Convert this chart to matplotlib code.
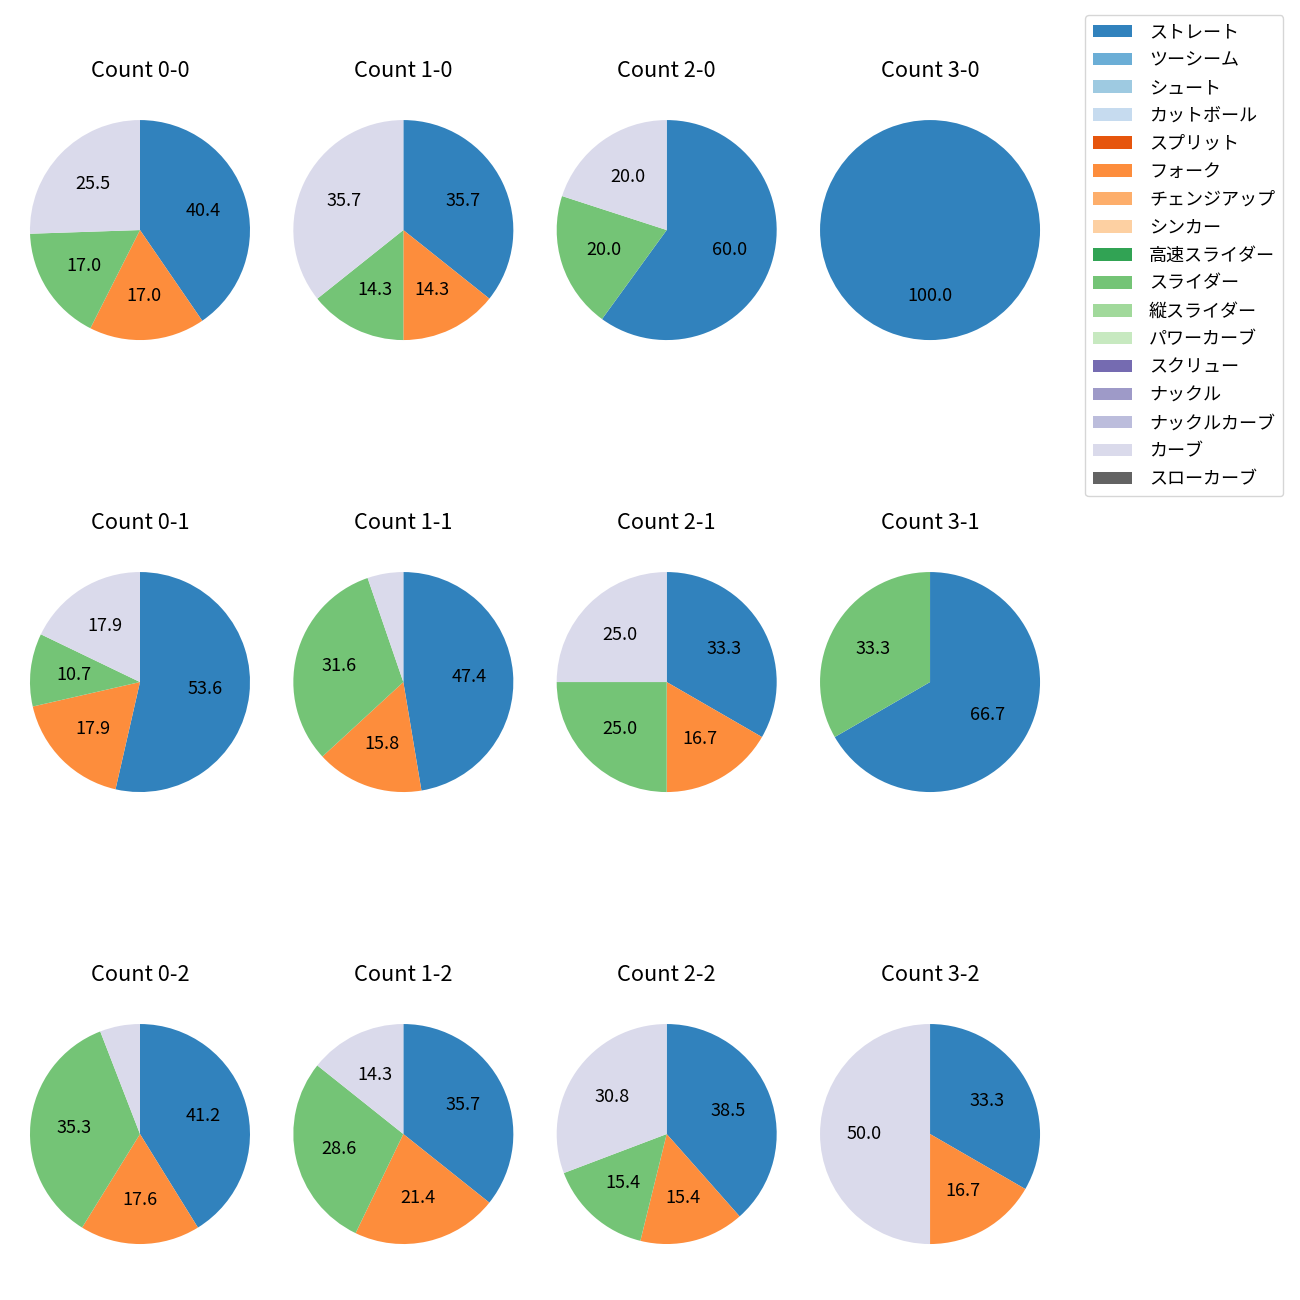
import matplotlib.pyplot as plt

plt.rcParams['font.family'] = ['Noto Sans CJK JP', 'DejaVu Sans']

pitch_types = ["ストレート", "ツーシーム", "シュート", "カットボール", "スプリット",
               "フォーク", "チェンジアップ", "シンカー", "高速スライダー", "スライダー",
               "縦スライダー", "パワーカーブ", "スクリュー", "ナックル", "ナックルカーブ",
               "カーブ", "スローカーブ"]

# pitch counts per ball-strike count: (straight, fork, slider, curve)
counts = {
    "0-0": (19, 8, 8, 12),
    "1-0": (5, 2, 2, 5),
    "2-0": (3, 0, 1, 1),
    "3-0": (1, 0, 0, 0),
    "0-1": (15, 5, 3, 5),
    "1-1": (9, 3, 6, 1),
    "2-1": (4, 2, 3, 3),
    "3-1": (2, 0, 1, 0),
    "0-2": (7, 3, 6, 1),
    "1-2": (5, 3, 4, 2),
    "2-2": (5, 2, 2, 4),
    "3-2": (2, 1, 0, 3),
}
used = ["ストレート", "フォーク", "スライダー", "カーブ"]

cmap = plt.get_cmap('tab20c')
colors = [cmap(i) for i in range(len(pitch_types))]


def full_values(vals):
    d = dict(zip(used, vals))
    return [d.get(p, 0) for p in pitch_types]


fig, axes = plt.subplots(3, 4, figsize=(13, 13))
plt.subplots_adjust(left=0.0019, right=0.8212, top=0.9288, bottom=0.0219,
                    wspace=-0.0425, hspace=0.6436)

handles = None
for j, strikes in enumerate(range(3)):
    for i, balls in enumerate(range(4)):
        key = f"{balls}-{strikes}"
        ax = axes[j, i]
        wedges, _, _ = ax.pie(full_values(counts[key]), colors=colors,
                              startangle=90, counterclock=False,
                              autopct=lambda p: f"{p:.1f}" if p >= 10 else "",
                              textprops={'fontsize': 13})
        ax.set_title(f"Count {key}", fontsize=15.7, pad=11)
        if handles is None:
            handles = wedges

fig.legend(handles, pitch_types, loc='upper right',
           bbox_to_anchor=(0.9940, 0.9953), fontsize=13,
           labelspacing=0.55, handlelength=2.15, handletextpad=0.95,
           borderpad=0.45)

fig.savefig("out.png", dpi=100)
